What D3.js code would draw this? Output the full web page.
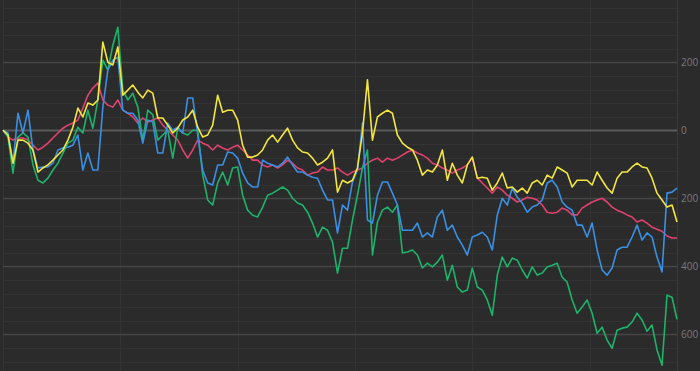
<!DOCTYPE html>
<html><head><meta charset="utf-8">
<script src="https://cdn.jsdelivr.net/npm/d3@7"></script>
<style>
html,body{margin:0;padding:0;background:#2b2b2b;overflow:hidden}
svg{display:block}
</style></head>
<body>
<svg id="chart" width="700" height="371"></svg>
<script>
// index of each sample (136 evenly spaced samples)
const sampleIndex = d3.range(136);
const timeGrid = [0, 23.5, 47, 70.5, 94, 117.5];
const yTicks = [-600, -400, -200, 0, 200];

const yellowSeries = [1,-13,-96,-28,-28,-37,-57,-122,-110,-101,
 -87,-72,-57,-28,10,66,40,81,75,90,
 260,201,193,246,104,119,134,113,96,119,
 110,37,37,16,-7,7,31,40,60,10,
 -19,-13,16,104,54,60,60,31,-43,-78,
 -78,-72,-57,-28,-13,-34,-13,7,-28,-51,
 -63,-66,-81,-101,-93,-81,-57,-181,-146,-154,
 -146,-110,-7,149,-28,40,51,60,51,-13,
 -37,-49,-57,-87,-131,-116,-122,-101,-57,-146,
 -96,-131,-154,-101,-78,-140,-137,-140,-175,-154,
 -125,-169,-166,-181,-169,-184,-154,-146,-160,-131,
 -140,-107,-116,-125,-166,-146,-146,-146,-160,-122,
 -146,-169,-184,-140,-122,-122,-107,-96,-107,-110,
 -140,-184,-204,-225,-219,-269];

const pinkSeries = [1,-19,-28,-22,-22,-28,-43,-57,-49,-37,
 -22,-7,7,16,22,31,66,104,125,140,
 90,75,69,90,60,51,40,22,37,25,
 31,37,16,1,-13,-28,-57,-81,-57,-28,
 -37,-43,-57,-43,-51,-57,-49,-43,-57,-72,
 -87,-87,-101,-107,-101,-110,-101,-87,-96,-110,
 -116,-131,-125,-122,-107,-116,-116,-110,-122,-131,
 -122,-116,-110,-96,-87,-81,-93,-81,-87,-81,
 -72,-63,-57,-66,-72,-81,-96,-101,-110,-116,
 -125,-116,-110,-101,-78,-140,-154,-169,-184,-166,
 -175,-190,-199,-210,-204,-196,-199,-204,-219,-240,
 -243,-240,-228,-234,-248,-248,-228,-219,-210,-204,
 -199,-210,-225,-234,-240,-248,-254,-269,-263,-272,
 -284,-290,-296,-310,-316,-316];

const blueSeries = [1,-7,-96,51,-7,60,-57,-110,-107,-107,
 -96,-57,-51,-49,-43,-13,-116,-66,-116,-116,
 69,178,207,216,60,51,51,31,-37,31,
 25,-66,-66,22,1,10,-7,96,96,-13,
 -116,-154,-160,-101,-101,-63,-66,-81,-125,-154,
 -166,-166,-87,-96,-101,-107,-96,-78,-101,-122,
 -122,-131,-137,-140,-175,-204,-204,-301,-219,-234,
 -151,-116,22,-263,-272,-190,-151,-151,-184,-219,
 -293,-293,-293,-272,-313,-301,-313,-254,-234,-293,
 -278,-313,-337,-366,-313,-307,-299,-313,-351,-249,
 -199,-219,-169,-196,-213,-240,-225,-219,-204,-154,
 -146,-166,-210,-225,-234,-278,-278,-313,-272,-351,
 -410,-425,-404,-351,-343,-343,-313,-278,-322,-301,
 -313,-372,-416,-184,-181,-169];

const greenSeries = [1,-19,-125,-19,-7,-19,-101,-146,-154,-140,
 -116,-96,-66,-37,-28,10,-7,60,7,90,
 207,178,251,304,119,90,110,69,-28,60,
 46,-28,-13,1,-81,7,-7,-13,1,1,
 -131,-204,-219,-154,-122,-160,-110,-107,-190,-234,
 -249,-254,-225,-190,-184,-175,-166,-175,-199,-213,
 -219,-240,-272,-313,-284,-293,-328,-419,-346,-346,
 -263,-190,-110,-57,-366,-269,-234,-225,-240,-219,
 -360,-357,-351,-366,-404,-390,-401,-387,-366,-440,
 -396,-460,-475,-469,-404,-460,-469,-498,-543,-425,
 -372,-401,-375,-381,-410,-434,-401,-425,-419,-401,
 -396,-390,-431,-446,-498,-537,-519,-498,-537,-596,
 -578,-616,-640,-587,-581,-578,-563,-537,-557,-590,
 -572,-645,-690,-484,-490,-555];

const seriesList = [
  {name:"pink", values:pinkSeries, color:"#e0426f"},
  {name:"green", values:greenSeries, color:"#1cb36a"},
  {name:"blue", values:blueSeries, color:"#3a90e4"},
  {name:"yellow", values:yellowSeries, color:"#f2e640"}
];

const W = 700, H = 371;
const left = 3, right = 677;
const svg = d3.select("#chart");

const x = d3.scaleLinear().domain([0, sampleIndex.length - 1]).range([left, right]);
const y = d3.scaleLinear().domain([-707, 384]).range([H, 0]);

// minor grid
const minor = d3.range(-680, 384, 40).filter(v => v % 200 !== 0);
svg.append("g").selectAll("line").data(minor).join("line")
  .attr("x1", left).attr("x2", right)
  .attr("y1", d => Math.round(y(d)) + 0.5).attr("y2", d => Math.round(y(d)) + 0.5)
  .attr("stroke", "#333333").attr("stroke-width", 1);

// vertical grid
svg.append("g").selectAll("line").data(timeGrid).join("line")
  .attr("x1", d => Math.round(x(d)) + 0.5).attr("x2", d => Math.round(x(d)) + 0.5)
  .attr("y1", 0).attr("y2", H)
  .attr("stroke", "#333333").attr("stroke-width", 1);

// major grid
svg.append("g").selectAll("line").data(yTicks).join("line")
  .attr("x1", left).attr("x2", right)
  .attr("y1", d => y(d)).attr("y2", d => y(d))
  .attr("stroke", d => d === 0 ? "#5a5a5a" : "#464646")
  .attr("stroke-width", d => d === 0 ? 2 : 1.5);

// right axis line
svg.append("line").attr("x1", right + 0.5).attr("x2", right + 0.5)
  .attr("y1", 0).attr("y2", H).attr("stroke", "#3a3a3a");

// right axis labels
const axis = d3.axisRight(y).tickValues(yTicks).tickSize(0).tickPadding(4)
  .tickFormat(d => Math.abs(d));
const ag = svg.append("g").attr("transform", `translate(${right},0)`).call(axis);
ag.select(".domain").remove();
ag.selectAll("text").attr("fill", "#7a7a7a")
  .style("font-family", "'Open Sans', 'DejaVu Sans', sans-serif").style("font-size", "10px");

// series
const line = d3.line().x((d, i) => x(i)).y(d => y(d)).curve(d3.curveLinear);
svg.append("g").selectAll("path").data(seriesList).join("path")
  .attr("d", s => line(s.values))
  .attr("fill", "none")
  .attr("stroke", s => s.color)
  .attr("stroke-width", 1.6)
  .attr("stroke-linejoin", "round");
</script>
</body></html>
